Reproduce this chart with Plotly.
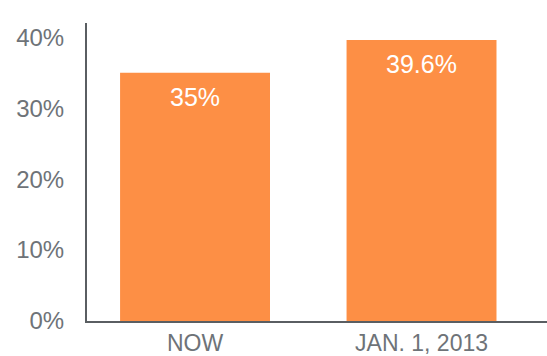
import plotly.graph_objects as go

categories = ["NOW", "JAN. 1, 2013"]
values = [35, 39.6]
value_labels = ["35%", "39.6%"]
y_ticks = [0, 10, 20, 30, 40]
y_tick_labels = ["0%", "10%", "20%", "30%", "40%"]

FONT = "Liberation Sans, Arial"

fig = go.Figure(go.Bar(
    x=categories, y=values,
    marker=dict(color="#FD8F45", line=dict(width=0)),
    width=0.662,
))

for c, v, t in zip(categories, values, value_labels):
    fig.add_annotation(
        x=c, y=v, text=t, showarrow=False, yanchor="middle", yshift=-24,
        font=dict(color="white", size=25, family=FONT),
    )

fig.update_layout(
    width=547, height=356,
    margin=dict(l=87, r=0, t=23, b=35),
    paper_bgcolor="white", plot_bgcolor="white",
    showlegend=False,
    font=dict(family=FONT, size=24, color="#6E7378"),
)
fig.update_xaxes(
    range=[-0.477, 1.554], showline=True, linecolor="#5A5E62", linewidth=2,
    ticks="", showgrid=False, ticklabelstandoff=0, automargin=False,
    tickfont=dict(size=23),
)
fig.update_yaxes(
    range=[0, 42], tickvals=y_ticks, ticktext=y_tick_labels,
    showline=True, linecolor="#5A5E62", linewidth=2,
    showgrid=False, zeroline=False, ticks="", ticklabelstandoff=16,
    automargin=False,
)
fig.write_html(
    "out.html",
    config={"displayModeBar": False},
    post_script="document.body.style.margin='0';document.body.style.overflow='hidden';",
)
